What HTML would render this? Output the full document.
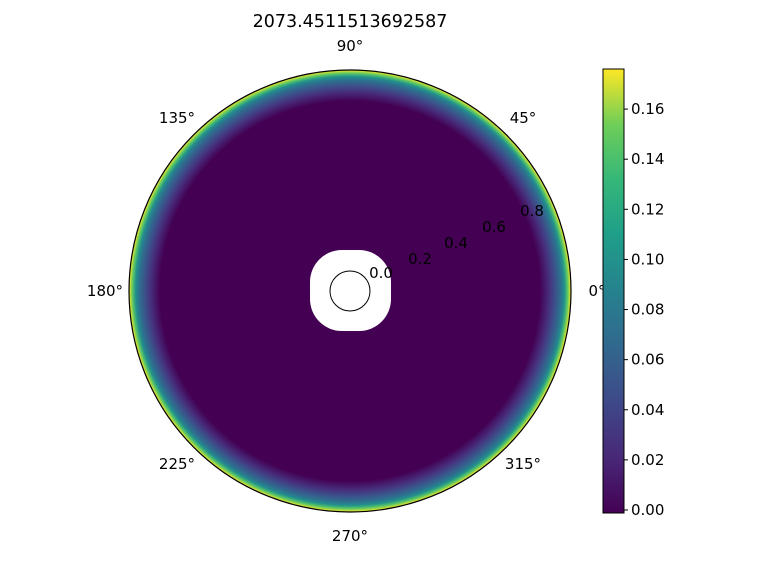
<!DOCTYPE html>
<html><head><meta charset="utf-8"><style>
html,body{margin:0;padding:0;background:#fff;}
svg{display:block;font-family:"DejaVu Sans","Liberation Sans",sans-serif;}
</style></head><body>
<svg width="768" height="576" viewBox="0 0 768 576">
<defs>
<radialGradient id="rg" cx="350" cy="291" r="221" gradientUnits="userSpaceOnUse">
<stop offset="0" stop-color="#440154"/>
<stop offset="0.86" stop-color="#440154"/>
<stop offset="0.90" stop-color="#472d7b"/>
<stop offset="0.93" stop-color="#3b528b"/>
<stop offset="0.955" stop-color="#2c728e"/>
<stop offset="0.97" stop-color="#21918c"/>
<stop offset="0.985" stop-color="#5ec962"/>
<stop offset="1" stop-color="#fde725"/>
</radialGradient>
<linearGradient id="cb" x1="0" y1="1" x2="0" y2="0">
<stop offset="0" stop-color="#440154"/><stop offset="0.125" stop-color="#482878"/>
<stop offset="0.25" stop-color="#3e4989"/><stop offset="0.375" stop-color="#31688e"/>
<stop offset="0.5" stop-color="#26828e"/><stop offset="0.625" stop-color="#1f9e89"/>
<stop offset="0.75" stop-color="#35b779"/><stop offset="0.875" stop-color="#6ece58"/>
<stop offset="1" stop-color="#fde725"/>
</linearGradient>
</defs>
<text x="350" y="27" font-size="17.5" text-anchor="middle">2073.4511513692587</text>
<circle cx="350" cy="291" r="221" fill="url(#rg)"/>
<rect x="310" y="250" width="81" height="81" rx="32" fill="#fff"/>
<circle cx="350" cy="291" r="20" fill="none" stroke="#000" stroke-width="1"/>
<circle cx="350" cy="291" r="221" fill="none" stroke="#000" stroke-width="1.2"/>
<g font-size="15" text-anchor="middle">
<text x="350" y="51">90°</text><text x="523" y="123">45°</text><text x="597" y="296">0°</text>
<text x="177" y="123">135°</text><text x="105" y="296">180°</text><text x="177" y="469">225°</text>
<text x="350" y="541">270°</text><text x="523" y="469">315°</text>
</g>
<g font-size="15" text-anchor="middle">
<text x="381" y="278">0.0</text><text x="420" y="264">0.2</text><text x="456" y="248">0.4</text>
<text x="494" y="232">0.6</text><text x="532" y="216">0.8</text>
</g>
<rect x="603" y="69" width="21" height="444" fill="url(#cb)" stroke="#000" stroke-width="1"/>
<g id="cbt" font-size="15"></g>
</svg>
<script>
const cbTicks=["0.00","0.02","0.04","0.06","0.08","0.10","0.12","0.14","0.16"];
const cbMin=-0.0012, cbMax=0.176;
const g=document.getElementById('cbt');
function yOf(v){return 513-(v-cbMin)/(cbMax-cbMin)*444;}
cbTicks.forEach(t=>{
 const y=yOf(parseFloat(t));
 const l=document.createElementNS('http://www.w3.org/2000/svg','line');
 
 
 l.setAttribute('x1',624);l.setAttribute('x2',628);l.setAttribute('y1',y);l.setAttribute('y2',y);l.setAttribute('stroke','#000');
 g.appendChild(l);
 const tx=document.createElementNS('http://www.w3.org/2000/svg','text');
 
 
 tx.setAttribute('x',631);tx.setAttribute('y',y+5);tx.textContent=t;
 g.appendChild(tx);
});
</script>
</body></html>
